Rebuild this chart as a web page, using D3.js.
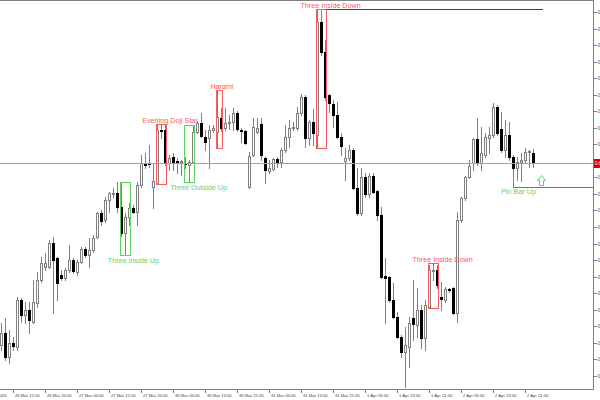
<!DOCTYPE html>
<html><head><meta charset="utf-8">
<script src="https://cdn.jsdelivr.net/npm/d3@7/dist/d3.min.js"></script>
<style>html,body{margin:0;padding:0;background:#fff;}svg{display:block;}</style>
</head><body>
<svg id="chart" width="600" height="400"></svg>
<script>
// ---- Data (hourly bars, 26 Mar – 2 Apr) ----
const opens  = [0.6655,0.6667,0.6643,0.6657,0.6653,0.6700,0.6685,0.6690,0.6678,0.6697,0.6720,0.6733,0.6733,0.6757,0.6742,0.6725,0.6722,0.6730,0.6740,0.6728,0.6738,0.6751,0.6745,0.6750,0.6763,0.6787,0.6780,0.6800,0.6806,0.6807,0.6793,0.6767,0.6783,0.6792,0.6788,0.6815,0.6837,0.6837,0.6813,0.6817,0.6870,0.6870,0.6837,0.6843,0.6839,0.6838,0.6837,0.6835,0.6838,0.6868,0.6877,0.6863,0.6862,0.6870,0.6868,0.6882,0.6872,0.6877,0.6878,0.6887,0.6870,0.6869,0.6813,0.6845,0.6868,0.6876,0.6842,0.6829,0.6831,0.6841,0.6838,0.6850,0.6863,0.6872,0.6872,0.6887,0.6903,0.6862,0.6878,0.6865,0.6978,0.6948,0.6905,0.6896,0.6885,0.6863,0.6839,0.6842,0.6850,0.6812,0.6787,0.6823,0.6806,0.6824,0.6809,0.6785,0.6724,0.6723,0.6700,0.6683,0.6663,0.6648,0.6653,0.6682,0.6675,0.6690,0.6662,0.6693,0.6729,0.6730,0.6703,0.6700,0.6711,0.6712,0.6687,0.6780,0.6802,0.6823,0.6837,0.6861,0.6837,0.6845,0.6862,0.6865,0.6893,0.6871,0.6850,0.6865,0.6843,0.6832,0.6838,0.6840,0.6848,0.6847];
const highs  = [0.6677,0.6682,0.6670,0.6663,0.6703,0.6702,0.6698,0.6698,0.6720,0.6728,0.6743,0.6747,0.6760,0.6763,0.6743,0.6730,0.6732,0.6755,0.6742,0.6740,0.6753,0.6753,0.6762,0.6765,0.6788,0.6790,0.6803,0.6808,0.6812,0.6818,0.6818,0.6787,0.6797,0.6795,0.6818,0.6845,0.6847,0.6855,0.6837,0.6876,0.6876,0.6875,0.6845,0.6847,0.6842,0.6840,0.6843,0.6840,0.6875,0.6879,0.6887,0.6870,0.6875,0.6875,0.6910,0.6892,0.6892,0.6885,0.6892,0.6889,0.6872,0.6870,0.6848,0.6882,0.6882,0.6882,0.6843,0.6840,0.6842,0.6843,0.6852,0.6875,0.6880,0.6878,0.6893,0.6906,0.6905,0.6880,0.6891,0.6990,0.6991,0.6960,0.6906,0.6900,0.6898,0.6867,0.6852,0.6855,0.6852,0.6832,0.6832,0.6827,0.6827,0.6827,0.6810,0.6793,0.6742,0.6724,0.6717,0.6688,0.6665,0.6673,0.6683,0.6720,0.6712,0.6695,0.6700,0.6735,0.6737,0.6735,0.6718,0.6713,0.6712,0.6713,0.6788,0.6803,0.6824,0.6840,0.6862,0.6882,0.6873,0.6867,0.6873,0.6897,0.6895,0.6888,0.6880,0.6878,0.6845,0.6843,0.6847,0.6852,0.6850,0.6851];
const lows   = [0.6650,0.6640,0.6637,0.6650,0.6650,0.6678,0.6677,0.6667,0.6677,0.6693,0.6718,0.6730,0.6732,0.6687,0.6700,0.6720,0.6720,0.6728,0.6727,0.6725,0.6737,0.6743,0.6733,0.6748,0.6762,0.6775,0.6778,0.6788,0.6803,0.6788,0.6764,0.6745,0.6775,0.6787,0.6775,0.6813,0.6832,0.6833,0.6792,0.6816,0.6862,0.6835,0.6830,0.6830,0.6827,0.6825,0.6832,0.6818,0.6837,0.6867,0.6863,0.6850,0.6832,0.6868,0.6852,0.6869,0.6870,0.6871,0.6870,0.6869,0.6858,0.6856,0.6812,0.6844,0.6867,0.6840,0.6817,0.6827,0.6830,0.6833,0.6833,0.6848,0.6853,0.6870,0.6870,0.6885,0.6853,0.6855,0.6855,0.6852,0.6945,0.6900,0.6888,0.6873,0.6862,0.6845,0.6820,0.6840,0.6811,0.6785,0.6785,0.6803,0.6803,0.6807,0.6780,0.6722,0.6677,0.6698,0.6682,0.6662,0.6643,0.6613,0.6633,0.6660,0.6663,0.6652,0.6650,0.6692,0.6720,0.6712,0.6690,0.6698,0.6708,0.6686,0.6678,0.6778,0.6800,0.6822,0.6830,0.6835,0.6830,0.6843,0.6847,0.6863,0.6865,0.6848,0.6843,0.6840,0.6813,0.6820,0.6819,0.6838,0.6833,0.6833];
const closes = [0.6667,0.6643,0.6657,0.6654,0.6700,0.6685,0.6690,0.6680,0.6698,0.6720,0.6737,0.6737,0.6757,0.6740,0.6717,0.6722,0.6730,0.6740,0.6729,0.6738,0.6751,0.6745,0.6750,0.6762,0.6787,0.6779,0.6800,0.6807,0.6807,0.6793,0.6767,0.6783,0.6792,0.6788,0.6815,0.6837,0.6835,0.6836,0.6819,0.6870,0.6869,0.6837,0.6842,0.6837,0.6837,0.6839,0.6836,0.6838,0.6868,0.6877,0.6864,0.6858,0.6870,0.6872,0.6883,0.6872,0.6877,0.6878,0.6887,0.6871,0.6869,0.6857,0.6844,0.6873,0.6872,0.6845,0.6830,0.6832,0.6841,0.6838,0.6850,0.6863,0.6872,0.6873,0.6887,0.6903,0.6862,0.6878,0.6867,0.6978,0.6948,0.6903,0.6897,0.6885,0.6863,0.6854,0.6842,0.6850,0.6812,0.6787,0.6823,0.6806,0.6824,0.6808,0.6785,0.6723,0.6722,0.6700,0.6683,0.6663,0.6648,0.6655,0.6677,0.6676,0.6690,0.6662,0.6695,0.6730,0.6730,0.6715,0.6701,0.6711,0.6710,0.6687,0.6780,0.6802,0.6823,0.6834,0.6861,0.6837,0.6847,0.6863,0.6865,0.6893,0.6867,0.6850,0.6865,0.6843,0.6832,0.6838,0.6840,0.6848,0.6849,0.6837];

// time axis labels and the bar index each one marks
const timeLabels = ["26 Mar 2026","26 Mar 12:00","26 Mar 20:00","27 Mar 04:00","27 Mar 12:00","27 Mar 20:00","30 Mar 05:00","30 Mar 13:00","30 Mar 21:00","31 Mar 05:00","31 Mar 13:00","31 Mar 21:00","1 Apr 05:00","1 Apr 13:00","1 Apr 21:00","2 Apr 05:00","2 Apr 13:00","2 Apr 21:00"];
const timeTickBars = [-5,3,11,19,27,35,43,51,59,67,75,83,91,99,107,115,123,131];

// price axis tick values
const priceTicks = [0.69877,0.69712,0.69547,0.69381,0.69216,0.69051,0.68886,0.68721,0.68555,0.68390,0.68225,0.68060,0.67895,0.67729,0.67564,0.67399,0.67234,0.67069,0.66903,0.66738,0.66573,0.66408,0.66243];

// candlestick patterns found
const patternNames  = ["Three Inside Up","Evening Doji Star","Three Outside Up","Harami","Three Inside Down","Three Inside Down"];
const patternStart  = [30,39,46,54,79,107];
const patternEnd    = [32,41,48,55,81,109];
const patternBull   = [true,false,true,false,false,false];
const patternTextAt = [33.1,42.25,49.4,55.25,82.4,110.4];

// pin bar signal
const pinBarName = "Pin Bar Up";
const pinBarIndex = 128;
const pinBarTextAt = 129.4;
const lineEndAt = 135.5;   // time reached by the resistance line
const arrowAt = 135;

// ---- Drawing ----
const svg = d3.select("#chart");
const W = 600, H = 400, plotRight = 593, plotBottom = 389;
svg.append("rect").attr("width", W).attr("height", H).attr("fill", "#fff");

const n = opens.length;
const x = d3.scaleLinear().domain([0, n - 1]).range([1, 1 + 4 * (n - 1)]);
const y = d3.scaleLinear().domain([0.7000, 0.6610]).range([0, 390]);
const px = i => Math.round(x(i));
const py = v => Math.round(y(v));

const wickCol = "#808080";
const bars = d3.range(n).map(i => ({i, o: opens[i], h: highs[i], l: lows[i], c: closes[i]}));

const plot = svg.append("g");
plot.selectAll("rect.wick").data(bars).join("rect")
  .attr("class", "wick")
  .attr("x", d => px(d.i)).attr("width", 1)
  .attr("y", d => py(d.h)).attr("height", d => py(d.l) - py(d.h) + 1)
  .attr("fill", wickCol);
plot.selectAll("rect.body").data(bars).join("rect")
  .attr("class", "body")
  .attr("x", d => px(d.i) - 1).attr("width", 3)
  .attr("y", d => py(Math.max(d.o, d.c)))
  .attr("height", d => Math.max(1, py(Math.min(d.o, d.c)) - py(Math.max(d.o, d.c)) + 1))
  .attr("fill", d => d.c >= d.o ? wickCol : "#000");
plot.selectAll("rect.inner").data(bars.filter(d => d.c >= d.o && py(d.o) - py(d.c) >= 2)).join("rect")
  .attr("class", "inner")
  .attr("x", d => px(d.i)).attr("width", 1)
  .attr("y", d => py(d.c) + 1).attr("height", d => py(d.o) - py(d.c) - 1)
  .attr("fill", "#fff");

// bid line at last close
const last = closes[n - 1];
svg.append("line").attr("x1", 0).attr("x2", plotRight).attr("y1", py(last) + 0.5).attr("y2", py(last) + 0.5)
  .attr("stroke", "#d98a8a").attr("stroke-width", 1);

// pattern boxes and labels
const green = "#5fd35f", red = "#ff5a5a";
patternNames.forEach((name, k) => {
  const s = patternStart[k], e = patternEnd[k];
  const top = d3.max(d3.range(s, e + 1), i => highs[i]);
  const bot = d3.min(d3.range(s, e + 1), i => lows[i]);
  const col = patternBull[k] ? green : red;
  svg.append("rect")
    .attr("x", px(s) - 0.5).attr("width", px(e) - px(s) + 2)
    .attr("y", py(top) + 0.5).attr("height", py(bot) - py(top))
    .attr("fill", "none").attr("stroke", col).attr("stroke-width", 1);
  svg.append("text")
    .attr("x", x(patternTextAt[k])).attr("y", patternBull[k] ? py(bot) + 7.5 : py(top) - 1)
    .attr("text-anchor", "middle").attr("fill", col)
    .attr("font-family", "Liberation Sans, Arial, sans-serif").attr("font-size", 7.2)
    .text(name);
});

// resistance line from the top Three Inside Down
{
  const k = 4;
  const top = d3.max(d3.range(patternStart[k], patternEnd[k] + 1), i => highs[i]);
  svg.append("line").attr("x1", px(patternEnd[k]) + 1.5).attr("x2", x(lineEndAt))
    .attr("y1", py(top) + 0.5).attr("y2", py(top) + 0.5)
    .attr("stroke", "#d40000").attr("stroke-width", 1);
}

// pin bar line, label and arrow
{
  const lv = lows[pinBarIndex];
  svg.append("line").attr("x1", px(pinBarIndex)).attr("x2", plotRight).attr("y1", py(lv) + 0.5).attr("y2", py(lv) + 0.5)
    .attr("stroke", "#22b022").attr("stroke-width", 1);
  svg.append("text").attr("x", x(pinBarTextAt)).attr("y", py(lv) + 7)
    .attr("text-anchor", "middle").attr("fill", green)
    .attr("font-family", "Liberation Sans, Arial, sans-serif").attr("font-size", 7.2)
    .text(pinBarName);
  const ax = Math.round(x(arrowAt)) + 0.5, ab = py(lv) - 1.5, at = ab - 10;
  svg.append("path")
    .attr("d", `M${ax},${at} L${ax + 4},${at + 5} L${ax + 2},${at + 5} L${ax + 2},${ab} L${ax - 2},${ab} L${ax - 2},${at + 5} L${ax - 4},${at + 5} Z`)
    .attr("fill", "#fff").attr("stroke", green).attr("stroke-width", 1);
}

// frame and axes
const axisCol = "#808080";
svg.append("line").attr("x1", 0).attr("x2", plotRight + 0.5).attr("y1", 0.5).attr("y2", 0.5).attr("stroke", axisCol);
svg.append("line").attr("x1", plotRight + 0.5).attr("x2", plotRight + 0.5).attr("y1", 0).attr("y2", plotBottom + 1).attr("stroke", axisCol);
svg.append("line").attr("x1", 0).attr("x2", plotRight + 1).attr("y1", plotBottom + 0.5).attr("y2", plotBottom + 0.5).attr("stroke", axisCol);

// price axis (labels clipped by the window edge)
const ya = svg.append("g");
priceTicks.forEach(v => {
  const yy = Math.round(y(v)) + 0.5;
  ya.append("line").attr("x1", plotRight).attr("x2", plotRight + 4).attr("y1", yy).attr("y2", yy).attr("stroke", axisCol);
  ya.append("text").attr("x", plotRight + 4.5).attr("y", yy + 1.8).attr("fill", "#555")
    .attr("font-family", "Liberation Sans, Arial, sans-serif").attr("font-size", 4.6)
    .text(v.toFixed(5));
});
// current price marker
svg.append("rect").attr("x", plotRight + 1).attr("y", py(last) - 4).attr("width", 7).attr("height", 9).attr("fill", "#cc0000");
svg.append("text").attr("x", plotRight + 2).attr("y", py(last) + 2.2).attr("fill", "#fff")
  .attr("font-family", "Liberation Sans, Arial, sans-serif").attr("font-size", 4.6)
  .text(last.toFixed(4));

// time axis
const xa = svg.append("g");
timeLabels.forEach((t, k) => {
  const xx = Math.round(x(timeTickBars[k])) + 0.5;
  xa.append("line").attr("x1", xx).attr("x2", xx).attr("y1", plotBottom).attr("y2", plotBottom + 4).attr("stroke", axisCol);
  xa.append("text").attr("x", xx + 1.5).attr("y", plotBottom + 7.5).attr("fill", "#444")
    .attr("font-family", "Liberation Sans, Arial, sans-serif").attr("font-size", 4.2)
    .text(t);
});
</script>
</body></html>
